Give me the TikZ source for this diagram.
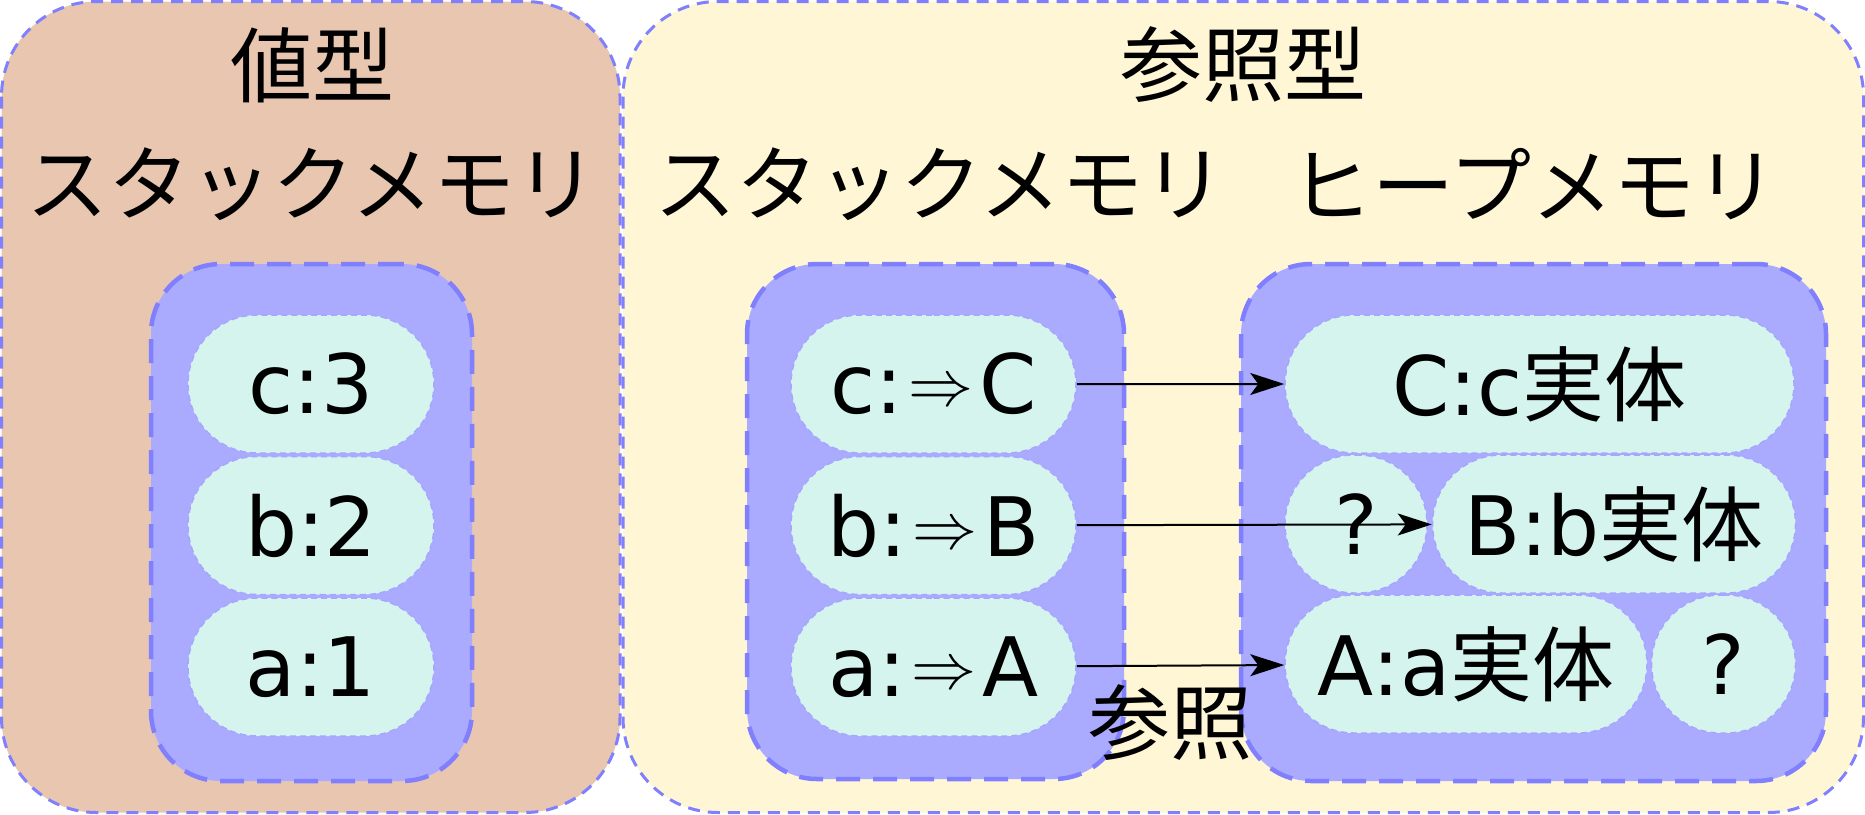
\documentclass[tikz,border=0pt]{standalone}
\usepackage{graphicx}
\usepackage{fontspec}
\setmainfont{DejaVu Sans}
\newfontfamily\jp{Noto Sans CJK JP}
\usetikzlibrary{positioning,shapes.misc,arrows.meta}
\definecolor{valbg}{HTML}{E8C6B0}
\definecolor{refbg}{HTML}{FFF6D6}
\definecolor{membg}{HTML}{AAAAFF}
\definecolor{cellbg}{HTML}{D5F4EE}
\definecolor{edge}{HTML}{8080FF}
\newcommand\imp{\hspace{6pt}\raisebox{8pt}{\scalebox{6.5}{\normalsize$\Rightarrow$}}\hspace{6pt}}

\begin{document}
\begin{tikzpicture}[x=1pt,y=-1pt,>={Stealth[length=34pt,width=22pt,inset=8pt]},
  box/.style={draw=edge,line width=3pt,dash pattern=on 12pt off 8pt,rounded corners=95pt},
  mem/.style={draw=edge,fill=membg,line width=4.5pt,dash pattern=on 24pt off 13pt,rounded corners=70pt,inner sep=0pt},
  cell/.style={rounded rectangle,draw=edge!70,fill=cellbg,line width=1.5pt,dash pattern=on 6pt off 4pt,minimum height=138pt,inner sep=0pt,font=\fontsize{82}{98}\selectfont},
  title/.style={font=\jp\fontsize{82}{98}\selectfont,inner sep=0pt}]
\useasboundingbox (0,0) rectangle (1865,814);
\draw[box,fill=valbg] (1.5,1.5) rectangle (620,812.5);
\draw[box,fill=refbg] (623,1.5) rectangle (1863.5,812.5);

\node[title] at (312,65) (val) {値型};
\node[title] at (312,184) (vstack) {スタックメモリ};
\node[title] at (1243,65) (ref) {参照型};
\node[title] at (940,184) (rstack) {スタックメモリ};
\node[title] at (1534,184) (heap) {ヒープメモリ};

\node[mem,minimum width=321pt,minimum height=517pt] at (311.5,522.5) (vmem) {};
\node[mem,minimum width=377pt,minimum height=515pt] at (935.5,521.5) (smem) {};
\node[mem,minimum width=585pt,minimum height=517pt] at (1533.5,522.5) (hmem) {};

\node[cell,minimum width=246pt] at (311,384) (c3) {c:3};
\node[cell,minimum width=246pt,below=2pt of c3] (b2) {b:2};
\node[cell,minimum width=246pt,below=2pt of b2] (a1) {a:1};

\node[cell,minimum width=285pt] at (933.5,384) (cr) {c:\imp C};
\node[cell,minimum width=285pt,below=2pt of cr] (br) {b:\imp B};
\node[cell,minimum width=285pt,below=2pt of br] (ar) {a:\imp A};

\node[cell,minimum width=509pt] at (1539.5,384) (C) {C:c{\jp 実体}};
\node[cell,minimum width=142pt] at (1356,524) (q1) {?};
\node[cell,minimum width=363pt,right=4pt of q1] (B) {B:b{\jp 実体}};
\node[cell,minimum width=362pt] at (1466,664) (A) {A:a{\jp 実体}};
\node[cell,minimum width=144pt,right=3pt of A] (q2) {?};

\draw[->,line width=2pt] (cr) -- (C);
\draw[->,line width=2pt] (br) -- (B);
\draw[->,line width=2pt] (ar) -- node[title,below=18pt,pos=.45] (lbl) {参照} (A);
\end{tikzpicture}
\end{document}
